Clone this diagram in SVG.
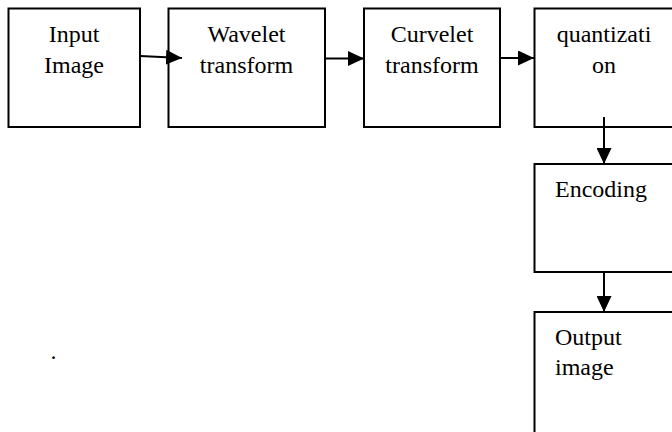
<svg xmlns="http://www.w3.org/2000/svg" width="672" height="432" viewBox="0 0 672 432">
<style>
.box{fill:#fff;stroke:#000;stroke-width:2}
.t{font-family:"Liberation Serif","Times New Roman",serif;font-size:24px;fill:#000}
.c{text-anchor:middle}
.ln{stroke:#000;stroke-width:2;fill:none}
</style>
<defs>
<marker id="ah" viewBox="0 0 16 15" refX="16" refY="7.5" markerWidth="16" markerHeight="15" markerUnits="userSpaceOnUse" orient="auto">
<path d="M0,0 L16,7.5 L0,15 Z" fill="#000"/>
</marker>
</defs>
<rect width="672" height="432" fill="#fff"/>
<g id="input">
<rect class="box" x="8.5" y="8.5" width="131.5" height="118.5"/>
<text class="t c" x="74" y="41.5">Input</text>
<text class="t c" x="74" y="72.5">Image</text>
</g>
<g id="wavelet">
<rect class="box" x="168.5" y="8.5" width="156.5" height="118.5"/>
<text class="t c" x="246.5" y="41.5">Wavelet</text>
<text class="t c" x="246.5" y="72.5">transform</text>
</g>
<g id="curvelet">
<rect class="box" x="364" y="8.5" width="136" height="118.5"/>
<text class="t c" x="432" y="41.5">Curvelet</text>
<text class="t c" x="432" y="72.5">transform</text>
</g>
<g id="quantization">
<rect class="box" x="534.5" y="8.5" width="140" height="118.5"/>
<text class="t c" x="604" y="41.5">quantizati</text>
<text class="t c" x="604" y="72.5">on</text>
</g>
<g id="encoding">
<rect class="box" x="534.5" y="164" width="140" height="108"/>
<text class="t" x="555" y="197">Encoding</text>
</g>
<g id="output">
<rect class="box" x="534.5" y="312" width="140" height="130"/>
<text class="t" x="555" y="345">Output</text>
<text class="t" x="555" y="375">image</text>
</g>
<g id="connectors">
<line class="ln" x1="140" y1="56" x2="182" y2="58" marker-end="url(#ah)"/>
<line class="ln" x1="325" y1="58.5" x2="364" y2="58.5" marker-end="url(#ah)"/>
<line class="ln" x1="500" y1="58" x2="534" y2="58" marker-end="url(#ah)"/>
<line class="ln" x1="604" y1="117" x2="604" y2="164" marker-end="url(#ah)"/>
<line class="ln" x1="604" y1="272" x2="604" y2="312" marker-end="url(#ah)"/>
</g>
<text class="t" x="50.5" y="359">.</text>
</svg>
